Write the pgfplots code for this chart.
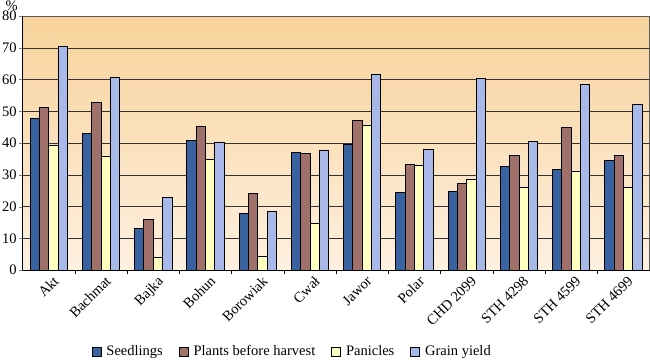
\documentclass[border=0pt]{standalone}
\usepackage{pgfplots}
\pgfplotsset{compat=1.18}
\usepackage{fontspec}
\setmainfont{Liberation Serif}
\definecolor{cSeed}{HTML}{3A62A0}
\definecolor{cPlant}{HTML}{A0706A}
\definecolor{cPan}{HTML}{FFFFC0}
\definecolor{cGrain}{HTML}{A8B8E8}
\definecolor{bgTop}{HTML}{F8D29A}
\definecolor{bgBot}{HTML}{FEF0E0}
\begin{document}
\begin{tikzpicture}
\begin{axis}[
  scale only axis,
  width=624bp, height=253bp,
  ybar=0pt, bar width=9.3bp,
  xmin=-0.5, xmax=11.5,
  ymin=0, ymax=80,
  ytick={0,10,...,80},
  ymajorgrids,
  grid style={black!80, line width=0.6pt},
  xtick={0,...,11},
  xticklabels={Akt,Bachmat,Bajka,Bohun,Borowiak,Cwał,Jawor,Polar,CHD 2099,STH 4298,STH 4599,STH 4699},
  minor xtick={0.5,1.5,...,10.5},
  major x tick style={draw=none},
  minor x tick style={black, line width=0.5pt},
  tick align=outside,
  xtick pos=bottom, ytick pos=left,
  minor tick length=4bp,
  major tick length=4bp,
  xticklabel style={rotate=45, anchor=north east, inner sep=0pt, yshift=-3bp, xshift=2bp},
  yticklabel style={inner sep=2pt},
  /pgf/number format/assume math mode=true,
  tick label style={font=\fontsize{14.5}{16}\selectfont},
  axis line style={gray!70!black, line width=0.7pt},
  axis background/.style={top color=bgTop, bottom color=bgBot},
  legend style={draw=none, fill=none, at={(0.43,-0.32)}, anchor=center,
    legend columns=-1, font=\fontsize{14.5}{16}\selectfont,
    /tikz/every even column/.append style={column sep=14bp},
    /tikz/every odd column/.append style={column sep=3bp}},
  legend image code/.code={\draw[#1, draw=black, line width=0.6pt] (0bp,-4.5bp) rectangle (9bp,4.5bp);},
  every axis plot/.append style={draw=black, line width=1pt},
  clip=false,
]
\addplot[fill=cSeed] coordinates {(0,47.9) (1,42.9) (2,13.0) (3,40.7) (4,17.8) (5,37.2) (6,39.7) (7,24.5) (8,24.7) (9,32.6) (10,31.6) (11,34.5)};
\addplot[fill=cPlant] coordinates {(0,51.3) (1,52.7) (2,15.9) (3,45.1) (4,24.0) (5,36.8) (6,47.0) (7,33.2) (8,27.3) (9,36.2) (10,44.8) (11,36.1)};
\addplot[fill=cPan] coordinates {(0,39.1) (1,35.8) (2,4.0) (3,34.9) (4,4.2) (5,14.6) (6,45.5) (7,33.0) (8,28.7) (9,26.1) (10,31.2) (11,25.9)};
\addplot[fill=cGrain] coordinates {(0,70.4) (1,60.6) (2,22.8) (3,40.2) (4,18.4) (5,37.8) (6,61.5) (7,38.1) (8,60.3) (9,40.6) (10,58.6) (11,52.2)};
\legend{Seedlings,Plants before harvest,Panicles,Grain yield}
\draw[black, line width=0.8pt] (rel axis cs:0,0) -- (rel axis cs:1,0);
\draw[black, line width=0.8pt] (rel axis cs:0,0) -- (rel axis cs:0,1);
\node[anchor=south, font=\fontsize{14.5}{16}\selectfont, inner sep=1pt] at ([xshift=-11bp,yshift=4bp]rel axis cs:0,1) {\%};
\end{axis}
\end{tikzpicture}
\end{document}
